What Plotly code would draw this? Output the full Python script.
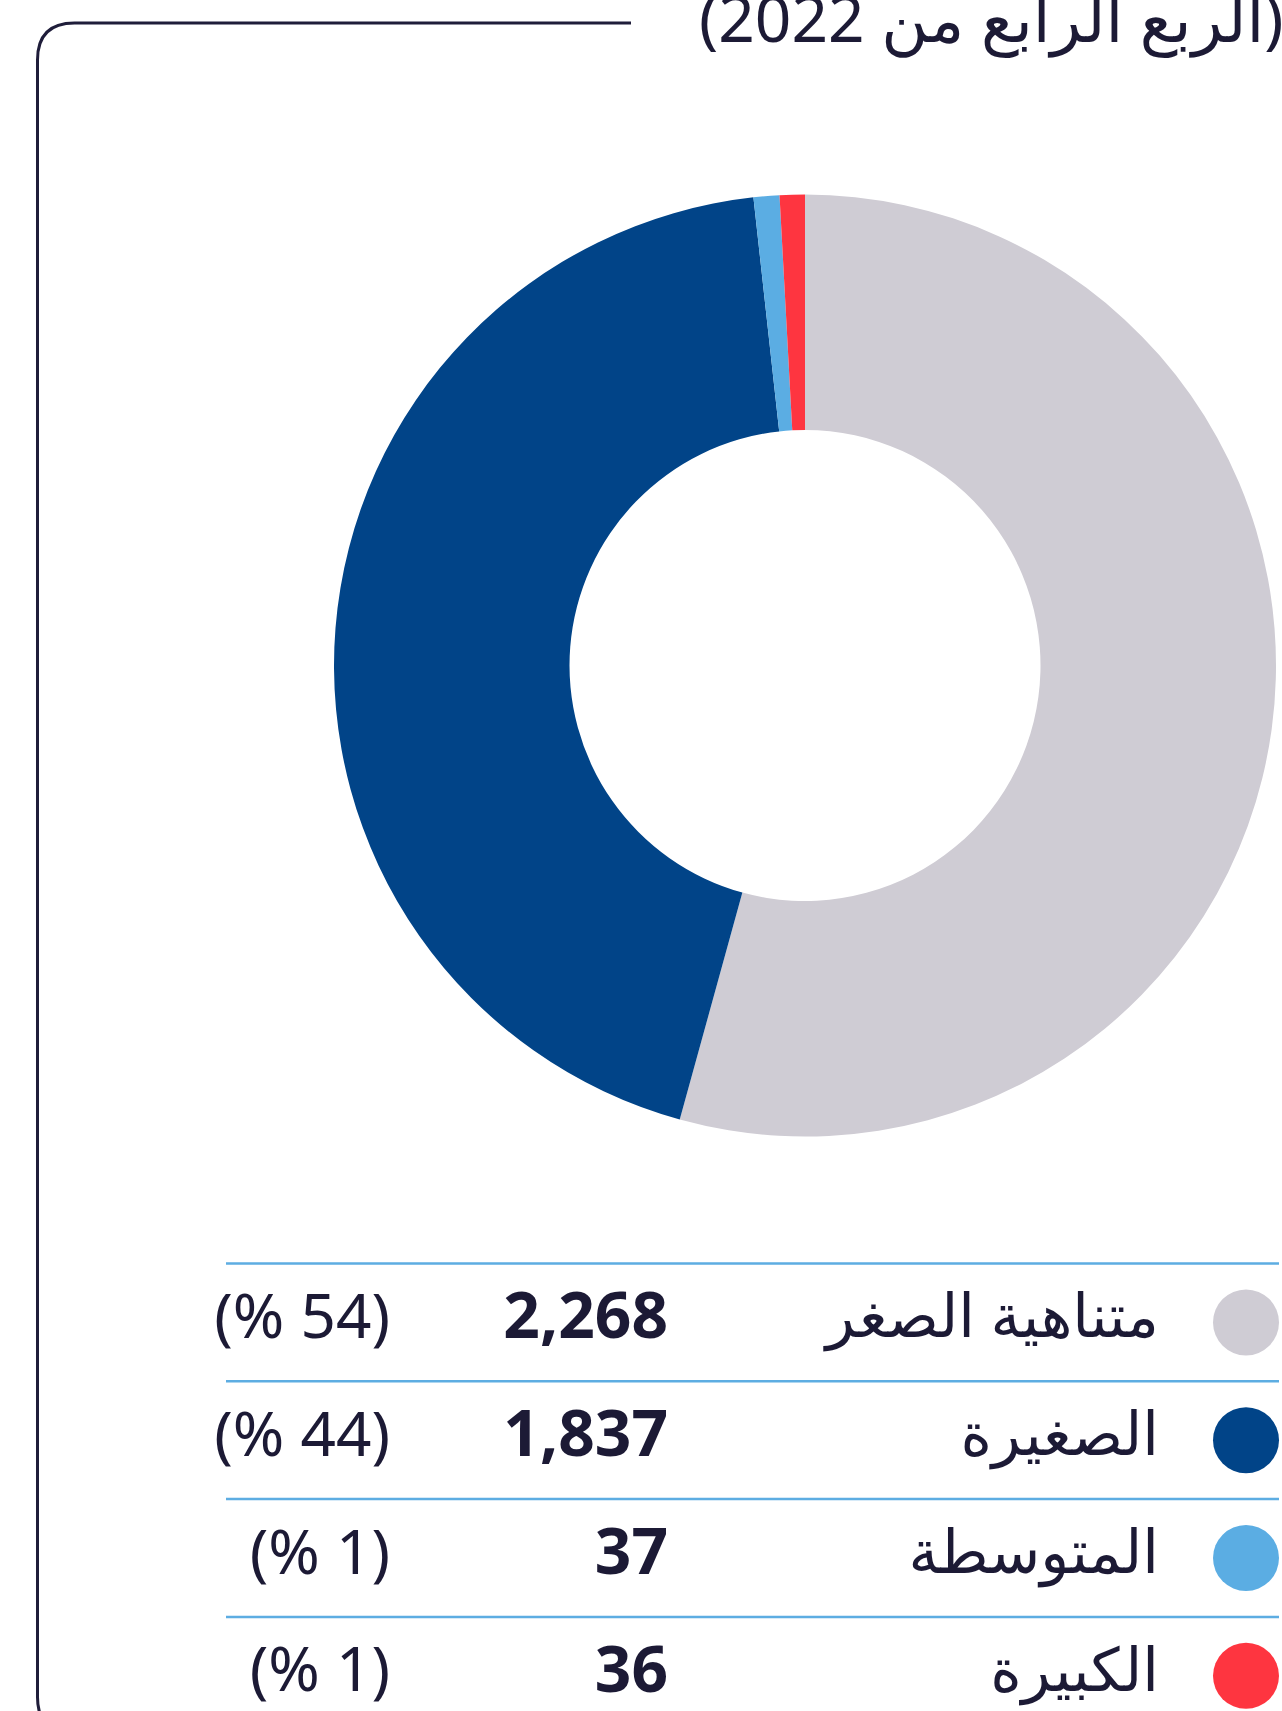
import plotly.graph_objects as go

# ---- data ----
categories = ["متناهية الصغر", "الصغيرة", "المتوسطة", "الكبيرة"]
counts = [2268, 1837, 37, 36]
count_labels = ["2,268", "1,837", "37", "36"]
pct_labels = ["(% 54)", "(% 44)", "(% 1)", "(% 1)"]
colors = ["#CFCCD4", "#014488", "#5BADE3", "#FE3540"]
title_text = "(الربع الرابع من 2022)"

W, H = 1282, 1711
TXT = "#1C1A35"
FONT = "Noto Sans, DejaVu Sans, sans-serif"

fig = go.Figure()

# donut
cx, cy, r = 805, 665.5, 471
fig.add_trace(go.Pie(
    labels=categories, values=counts, hole=0.5, sort=False,
    direction="clockwise", rotation=0,
    marker=dict(colors=colors, line=dict(width=0)),
    textinfo="none", hoverinfo="label+value+percent", showlegend=False,
    domain=dict(x=[(cx - r) / W, (cx + r) / W],
                y=[1 - (cy + r) / H, 1 - (cy - r) / H]),
))

# table rows
table_top, row_h = 1263.5, 117.8
row_y = [table_top + (i + 0.5) * row_h for i in range(len(categories))]

fig.add_trace(go.Scatter(
    x=[1246] * len(categories), y=row_y, mode="markers",
    marker=dict(size=66, color=colors, line=dict(width=0)),
    hoverinfo="skip", showlegend=False, cliponaxis=False))
fig.add_trace(go.Scatter(
    x=[1159] * len(categories), y=row_y, mode="text", text=categories,
    textposition="middle left",
    textfont=dict(family=FONT, size=60, color=TXT),
    hoverinfo="skip", showlegend=False, cliponaxis=False))
fig.add_trace(go.Scatter(
    x=[668] * len(categories), y=row_y, mode="text",
    text=["<b>%s</b>" % s for s in count_labels],
    textposition="middle left",
    textfont=dict(family=FONT, size=64, color=TXT),
    hoverinfo="skip", showlegend=False, cliponaxis=False))
fig.add_trace(go.Scatter(
    x=[390] * len(categories), y=row_y, mode="text", text=pct_labels,
    textposition="middle left",
    textfont=dict(family=FONT, size=62, color=TXT),
    hoverinfo="skip", showlegend=False, cliponaxis=False))

shapes = []
for i in range(len(categories)):
    yl = table_top + i * row_h
    shapes.append(dict(type="line", xref="x", yref="y", x0=226, x1=1279,
                       y0=yl, y1=yl, line=dict(color="#5DADE2", width=2.5)))

# rounded frame (left + top edges)
def px(x, y):
    return "%.5f,%.5f" % (x / W, 1 - y / H)
fx, fy, rad = 37.5, 23, 37
path = ("M " + px(631, fy) + " L " + px(fx + rad, fy) +
        " Q " + px(fx, fy) + " " + px(fx, fy + rad) +
        " L " + px(fx, H - 14) +
        " Q " + px(fx, H + 23) + " " + px(fx + rad, H + 23))
shapes.append(dict(type="path", xref="paper", yref="paper", path=path,
                   line=dict(color="#1F1D3A", width=3)))

fig.update_layout(
    width=W, height=H, margin=dict(l=0, r=0, t=0, b=0),
    paper_bgcolor="white", plot_bgcolor="rgba(0,0,0,0)",
    xaxis=dict(range=[0, W], visible=False, domain=[0, 1], fixedrange=True),
    yaxis=dict(range=[H, 0], visible=False, domain=[0, 1], fixedrange=True),
    shapes=shapes,
    annotations=[dict(text=title_text, xref="paper", yref="paper",
                      x=697 / W, y=1 - 18 / H, xanchor="left", yanchor="middle",
                      showarrow=False,
                      font=dict(family=FONT, size=64, color=TXT))],
)

fig.write_html("out.html",
               config={"displayModeBar": False},
               post_script="document.body.style.margin='0';"
                           "document.body.style.overflow='hidden';")
